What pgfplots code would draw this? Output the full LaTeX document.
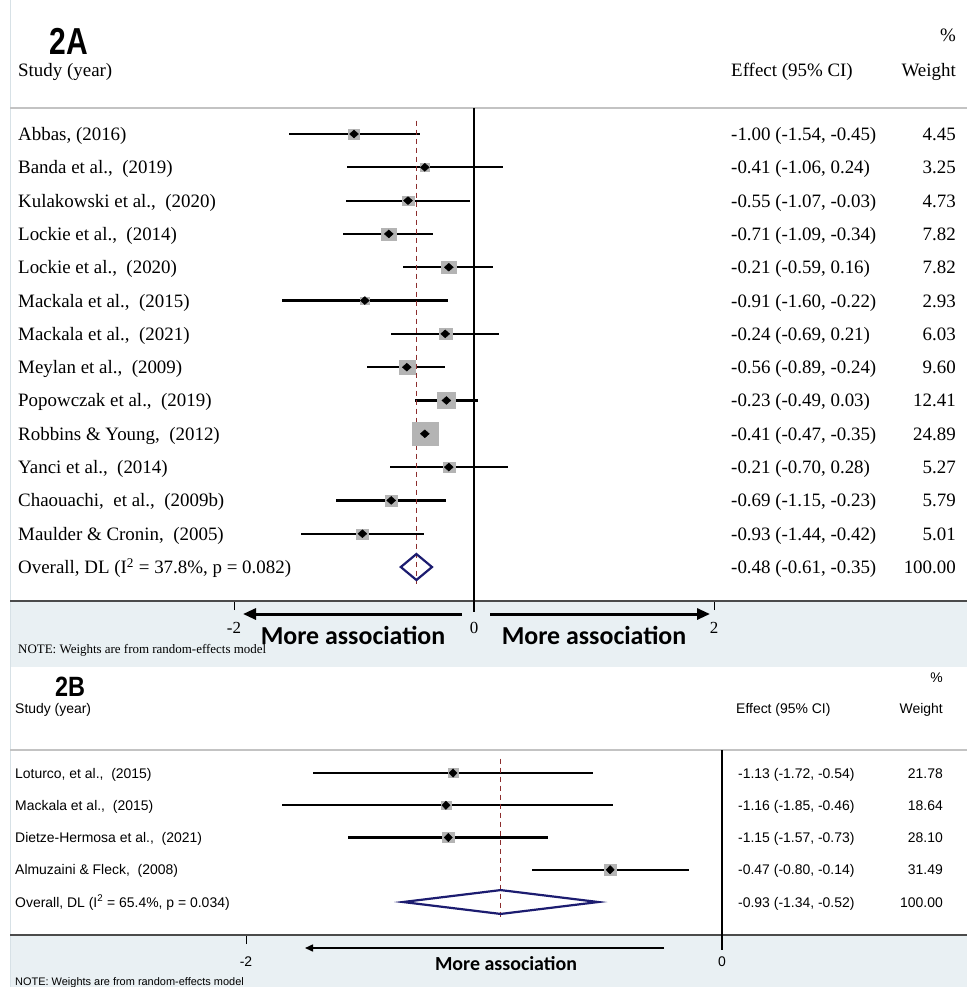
\documentclass[border=0pt]{standalone}
\usepackage{pgfplots}
\pgfplotsset{compat=1.18}
\usepackage{pgfplotstable}
\usepackage{graphicx}
\usetikzlibrary{arrows.meta}
\usepackage{fontspec}
\setmainfont{Liberation Serif}
\newfontfamily\arial{Liberation Sans}
\newfontfamily\carlito{Carlito}

\definecolor{band}{RGB}{233,240,243}
\definecolor{edge}{RGB}{215,225,230}
\definecolor{sqgrey}{RGB}{180,180,180}
\definecolor{dashred}{RGB}{140,45,45}
\definecolor{navy}{RGB}{28,28,112}
\definecolor{hdrline}{RGB}{195,195,195}
\definecolor{axline}{RGB}{75,75,75}

% Panel 2A: row, estimate, lower CI, upper CI, weight (%)
\pgfplotstableread{
r est lo hi w
1 -1.00 -1.54 -0.45 4.45
2 -0.41 -1.06 0.24 3.25
3 -0.55 -1.07 -0.03 4.73
4 -0.71 -1.09 -0.34 7.82
5 -0.21 -0.59 0.16 7.82
6 -0.91 -1.60 -0.22 2.93
7 -0.24 -0.69 0.21 6.03
8 -0.56 -0.89 -0.24 9.60
9 -0.23 -0.49 0.03 12.41
10 -0.41 -0.47 -0.35 24.89
11 -0.21 -0.70 0.28 5.27
12 -0.69 -1.15 -0.23 5.79
13 -0.93 -1.44 -0.42 5.01
}\dataA

% Panel 2B
\pgfplotstableread{
r est lo hi w
1 -1.13 -1.72 -0.54 21.78
2 -1.16 -1.85 -0.46 18.64
3 -1.15 -1.57 -0.73 28.10
4 -0.47 -0.80 -0.14 31.49
}\dataB

\begin{document}
\begin{tikzpicture}
% background
\fill[white] (0,0) rectangle (967bp,-987bp);
\fill[band] (10bp,-601bp) rectangle (967bp,-667bp);
\fill[band] (10bp,-935bp) rectangle (967bp,-987bp);
\draw[edge, line width=1bp] (10.5bp,0) -- (10.5bp,-987bp);
\draw[hdrline, line width=2bp] (10bp,-108bp) -- (967bp,-108bp);
\draw[hdrline, line width=2bp] (10bp,-750bp) -- (967bp,-750bp);

% ---------------- Panel A ----------------
\begin{axis}[
  at={(10bp,-601bp)}, anchor=south west,
  scale only axis, width=957bp, height=493bp,
  xmin=-3.8667, xmax=4.1083, ymin=-15.02, ymax=-0.2195,
  clip=false,
  axis x line=bottom, axis y line=none,
  x axis line style={-, draw=axline, line width=1.6bp},
  xtick={-2,0,2}, xticklabels={-2,0,2},
  tick align=outside, major tick length=9bp,
  xtick style={black, line width=1bp},
  xticklabel style={font=\fontsize{17}{17}\selectfont, text=black, yshift=-9bp},
  ytick=\empty,
]
\addplot[black, line width=1.6bp] coordinates {(0,-0.2195) (0,-15.35)};
\addplot[scatter, only marks, mark=square*,
  scatter/use mapped color={draw=sqgrey, fill=sqgrey},
  visualization depends on={2.27*sqrt(\thisrow{w}) \as \ms},
  scatter/@pre marker code/.append style={/tikz/mark size=\ms},
  mark options={xscale=1.15, line width=0.2bp}]
  table[x=est, y expr=-\thisrow{r}] {\dataA};
\addplot[only marks, mark=diamond*, mark size=4, mark options={black, fill=black, xscale=1.5},
  error bars/.cd, x dir=both, x explicit, error mark=none,
  error bar style={black, line width=2.2bp}]
  table[x=est, y expr=-\thisrow{r},
        x error plus expr=\thisrow{hi}-\thisrow{est},
        x error minus expr=\thisrow{est}-\thisrow{lo}] {\dataA};
\addplot[dashred, line width=1.3bp, dash pattern=on 5bp off 4bp] coordinates {(-0.48,-0.6) (-0.48,-14.5)};
\addplot[navy, line width=2.2bp, line join=miter] coordinates {(-0.61,-14) (-0.48,-13.61) (-0.35,-14) (-0.48,-14.39)} -- cycle;
\end{axis}

% ---------------- Panel B ----------------
\begin{axis}[
  at={(10bp,-935bp)}, anchor=south west,
  scale only axis, width=957bp, height=185bp,
  xmin=-2.9916, xmax=1.0294, ymin=-6.023, ymax=-0.2868,
  clip=false,
  axis x line=bottom, axis y line=none,
  x axis line style={-, draw=axline, line width=1.6bp},
  xtick={-2,0}, xticklabels={-2,0},
  tick align=outside, major tick length=9bp,
  xtick style={black, line width=1bp},
  xticklabel style={font=\arial\fontsize{14}{14}\selectfont, text=black, yshift=-9bp},
  ytick=\empty,
]
\addplot[black, line width=1.6bp] coordinates {(0,-0.2868) (0,-6.488)};
\addplot[scatter, only marks, mark=square*,
  scatter/use mapped color={draw=sqgrey, fill=sqgrey},
  visualization depends on={0.962*sqrt(\thisrow{w}) \as \ms},
  scatter/@pre marker code/.append style={/tikz/mark size=\ms},
  mark options={xscale=1.13, line width=0.2bp}]
  table[x=est, y expr=-\thisrow{r}] {\dataB};
\addplot[only marks, mark=diamond*, mark size=4.2, mark options={black, fill=black, xscale=1.3},
  error bars/.cd, x dir=both, x explicit, error mark=none,
  error bar style={black, line width=2.2bp}]
  table[x=est, y expr=-\thisrow{r},
        x error plus expr=\thisrow{hi}-\thisrow{est},
        x error minus expr=\thisrow{est}-\thisrow{lo}] {\dataB};
\addplot[dashred, line width=1.3bp, dash pattern=on 5bp off 4bp] coordinates {(-0.93,-0.55) (-0.93,-5.5)};
\addplot[navy, line width=2.2bp, line join=miter] coordinates {(-1.34,-5) (-0.93,-4.63) (-0.52,-5) (-0.93,-5.37)} -- cycle;
\end{axis}

% ---------------- Texts panel A ----------------
\node[font=\bfseries\arial\fontsize{37.7}{38}\selectfont, anchor=center] at (69bp,-41bp) {\scalebox{0.8}[1]{2A}};
\begin{scope}[every node/.style={font=\fontsize{19}{19}\selectfont, inner sep=0pt}]
\node[anchor=base east] at (956bp,-41bp) {\%};
\node[anchor=base west] at (18bp,-76bp) {Study (year)};
\node[anchor=base west] at (731bp,-76bp) {Effect (95\% CI)};
\node[anchor=base east] at (956bp,-76bp) {Weight};
\foreach \r/\nm/\ef/\wt in {
 1/{Abbas, (2016)}/{-1.00 (-1.54, -0.45)}/4.45,
 2/{Banda et al.,\ \ (2019)}/{-0.41 (-1.06, 0.24)}/3.25,
 3/{Kulakowski et al.,\ \ (2020)}/{-0.55 (-1.07, -0.03)}/4.73,
 4/{Lockie et al.,\ \ (2014)}/{-0.71 (-1.09, -0.34)}/7.82,
 5/{Lockie et al.,\ \ (2020)}/{-0.21 (-0.59, 0.16)}/7.82,
 6/{Mackala et al.,\ \ (2015)}/{-0.91 (-1.60, -0.22)}/2.93,
 7/{Mackala et al.,\ \ (2021)}/{-0.24 (-0.69, 0.21)}/6.03,
 8/{Meylan et al.,\ \ (2009)}/{-0.56 (-0.89, -0.24)}/9.60,
 9/{Popowczak et al.,\ \ (2019)}/{-0.23 (-0.49, 0.03)}/12.41,
 10/{Robbins \& Young,\ \ (2012)}/{-0.41 (-0.47, -0.35)}/24.89,
 11/{Yanci et al.,\ \ (2014)}/{-0.21 (-0.70, 0.28)}/5.27,
 12/{Chaouachi,\ \ et al.,\ \ (2009b)}/{-0.69 (-1.15, -0.23)}/5.79,
 13/{Maulder \& Cronin,\ \ (2005)}/{-0.93 (-1.44, -0.42)}/5.01,
 14/{Overall, DL (I\textsuperscript{2} = 37.8\%, p = 0.082)}/{-0.48 (-0.61, -0.35)}/100.00}{
  \pgfmathsetmacro\yb{-(134+(\r-1)*33.31+6.5)}
  \node[anchor=base west] at (18bp,\yb bp) {\nm};
  \node[anchor=base west] at (731bp,\yb bp) {\ef};
  \node[anchor=base east] at (956bp,\yb bp) {\wt};
}
\end{scope}
\draw[line width=3bp, -{Triangle[length=13bp, width=11bp]}] (462bp,-614bp) -- (243bp,-614bp);
\draw[line width=3bp, -{Triangle[length=13bp, width=11bp]}] (490bp,-614bp) -- (710bp,-614bp);
\node[font=\carlito\bfseries\fontsize{26}{26}\selectfont, anchor=center] at (353bp,-635bp) {More association};
\node[font=\carlito\bfseries\fontsize{26}{26}\selectfont, anchor=center] at (594bp,-635bp) {More association};
\node[font=\fontsize{13}{13}\selectfont, anchor=base west, inner sep=0pt] at (18bp,-653bp) {NOTE: Weights are from random-effects model};

% ---------------- Texts panel B ----------------
\node[font=\bfseries\arial\fontsize{28}{28}\selectfont, anchor=center] at (70bp,-687bp) {\scalebox{0.84}[1]{2B}};
\begin{scope}[every node/.style={font=\arial\fontsize{14}{14}\selectfont, inner sep=0pt}]
\node[anchor=base east] at (943bp,-682bp) {\%};
\node[anchor=base west] at (15bp,-713bp) {Study (year)};
\node[anchor=base west] at (736bp,-713bp) {Effect (95\% CI)};
\node[anchor=base east] at (943bp,-713bp) {Weight};
\foreach \r/\nm/\ef/\wt in {
 1/{Loturco, et al.,\ \ (2015)}/{-1.13 (-1.72, -0.54)}/21.78,
 2/{Mackala et al.,\ \ (2015)}/{-1.16 (-1.85, -0.46)}/18.64,
 3/{Dietze-Hermosa et al.,\ \ (2021)}/{-1.15 (-1.57, -0.73)}/28.10,
 4/{Almuzaini \& Fleck,\ \ (2008)}/{-0.47 (-0.80, -0.14)}/31.49,
 5/{Overall, DL (I\textsuperscript{2} = 65.4\%, p = 0.034)}/{-0.93 (-1.34, -0.52)}/100.00}{
  \pgfmathsetmacro\yb{-(773+(\r-1)*32.25+5)}
  \node[anchor=base west] at (15bp,\yb bp) {\nm};
  \node[anchor=base west] at (738bp,\yb bp) {\ef};
  \node[anchor=base east] at (943bp,\yb bp) {\wt};
}
\end{scope}
\draw[line width=1.5bp, -{Triangle[length=8bp, width=7bp]}] (664bp,-948bp) -- (305bp,-948bp);
\node[font=\carlito\bfseries\fontsize{20}{20}\selectfont, anchor=center] at (506bp,-964bp) {More association};
\node[font=\arial\fontsize{11}{11}\selectfont, anchor=base west, inner sep=0pt] at (15bp,-985bp) {NOTE: Weights are from random-effects model};

\pgfresetboundingbox
\path[use as bounding box] (0,0) rectangle (967bp,-987bp);
\end{tikzpicture}
\end{document}
